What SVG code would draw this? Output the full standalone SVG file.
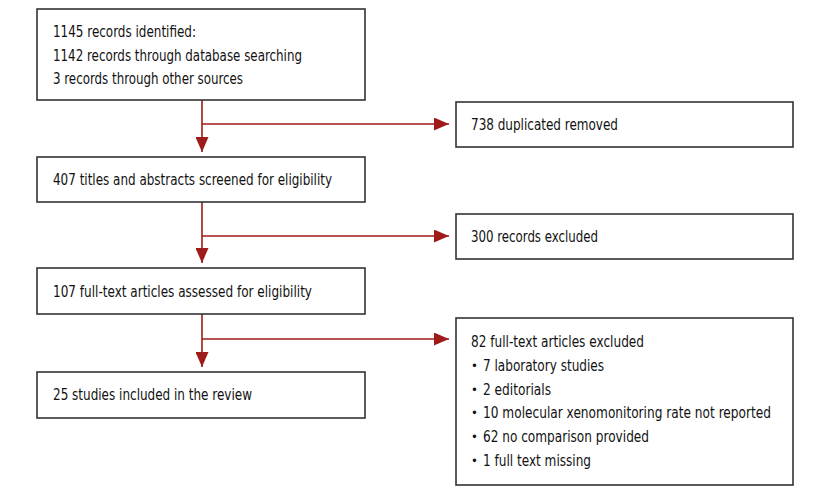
<svg xmlns="http://www.w3.org/2000/svg" width="815" height="496" viewBox="0 0 815 496">
<defs>
<style>
.box{fill:#fff;stroke:#333;stroke-width:1.6}
.t{font-family:"DejaVu Sans Condensed","Liberation Sans Narrow","Liberation Sans",sans-serif;font-size:16px;fill:#111}
.s{font-size:15px}
.b{font-family:"DejaVu Sans Condensed","Liberation Sans",sans-serif;font-size:13px;fill:#111}
.c{fill:none;stroke:#9e1b1b;stroke-width:1.6}
</style>
<marker id="ah" viewBox="0 0 15 13" refX="15" refY="6.5" markerWidth="15" markerHeight="13" markerUnits="userSpaceOnUse" orient="auto">
<path d="M0,0 L15,6.5 L0,13 Z" fill="#9e1b1b"/>
</marker>
</defs>
<rect width="815" height="496" fill="#fff"/>
<g id="connectors">
<path class="c" d="M202,100 V152" marker-end="url(#ah)"/>
<path class="c" d="M202,124 H449" marker-end="url(#ah)"/>
<path class="c" d="M202,202 V263" marker-end="url(#ah)"/>
<path class="c" d="M202,236 H449" marker-end="url(#ah)"/>
<path class="c" d="M202,314 V367" marker-end="url(#ah)"/>
<path class="c" d="M202,339 H449" marker-end="url(#ah)"/>
</g>
<g id="n1">
<rect class="box" x="37" y="9" width="328" height="91"/>
<text class="t" x="53" y="37" textLength="143" lengthAdjust="spacingAndGlyphs">1145 records identified:</text>
<text class="t" x="53" y="60.5" textLength="249" lengthAdjust="spacingAndGlyphs">1142 records through database searching</text>
<text class="t" x="53" y="84" textLength="190" lengthAdjust="spacingAndGlyphs">3 records through other sources</text>
</g>
<g id="n2">
<rect class="box" x="456" y="102" width="337" height="45"/>
<text class="t" x="471" y="130" textLength="147" lengthAdjust="spacingAndGlyphs">738 duplicated removed</text>
</g>
<g id="n3">
<rect class="box" x="37" y="157" width="328" height="45"/>
<text class="t" x="53" y="185" textLength="279" lengthAdjust="spacingAndGlyphs">407 titles and abstracts screened for eligibility</text>
</g>
<g id="n4">
<rect class="box" x="456" y="214" width="337" height="45"/>
<text class="t" x="471" y="242" textLength="127" lengthAdjust="spacingAndGlyphs">300 records excluded</text>
</g>
<g id="n5">
<rect class="box" x="37" y="268" width="328" height="46"/>
<text class="t" x="53" y="297" textLength="259" lengthAdjust="spacingAndGlyphs">107 full-text articles assessed for eligibility</text>
</g>
<g id="n6">
<rect class="box" x="37" y="372" width="328" height="46"/>
<text class="t" x="53" y="400" textLength="199" lengthAdjust="spacingAndGlyphs">25 studies included in the review</text>
</g>
<g id="n7">
<rect class="box" x="456" y="318" width="337" height="167"/>
<text class="t" x="471" y="347" textLength="173" lengthAdjust="spacingAndGlyphs">82 full-text articles excluded</text>
<text class="b" x="471" y="370">•</text><text class="t" x="483" y="371" textLength="121" lengthAdjust="spacingAndGlyphs">7 laboratory studies</text>
<text class="b" x="471" y="393.5">•</text><text class="t" x="483" y="394.5" textLength="68" lengthAdjust="spacingAndGlyphs">2 editorials</text>
<text class="b" x="471" y="417">•</text><text class="t s" x="483" y="418" textLength="288" lengthAdjust="spacingAndGlyphs">10 molecular xenomonitoring rate not reported</text>
<text class="b" x="471" y="441">•</text><text class="t" x="483" y="442" textLength="166" lengthAdjust="spacingAndGlyphs">62 no comparison provided</text>
<text class="b" x="471" y="465">•</text><text class="t" x="483" y="466" textLength="108" lengthAdjust="spacingAndGlyphs">1 full text missing</text>
</g>
</svg>
